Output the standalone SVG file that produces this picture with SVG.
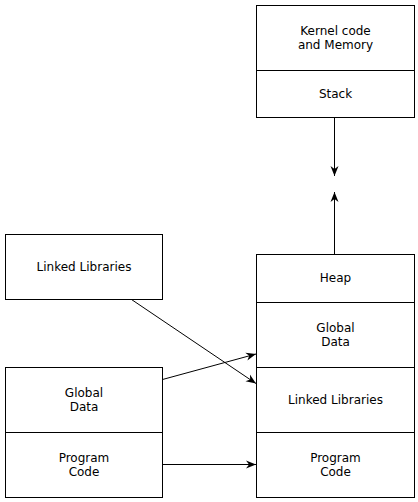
<svg xmlns="http://www.w3.org/2000/svg" width="418" height="502" viewBox="0 0 418 502">
<style>
.box{fill:#fff;stroke:#000;stroke-width:1}
.t{font-family:"DejaVu Sans",sans-serif;font-size:12px;fill:#000;text-anchor:middle}
.c{fill:none;stroke:#000;stroke-width:1}
</style>
<defs>
<marker id="ah" markerWidth="12" markerHeight="10" refX="10" refY="5" orient="auto" markerUnits="userSpaceOnUse">
<path d="M0,1 L10,5 L0,9 L3,5 Z" fill="#000"/>
</marker>
</defs>
<rect width="418" height="502" fill="#fff"/>
<g id="kernel">
<rect class="box" x="256.5" y="5.5" width="158" height="65"/>
<text class="t" x="335.5" y="35">Kernel code</text>
<text class="t" x="335.5" y="49">and Memory</text>
</g>
<g id="stack">
<rect class="box" x="256.5" y="70.5" width="158" height="47"/>
<text class="t" x="335.5" y="98">Stack</text>
</g>
<g id="heap">
<rect class="box" x="256.5" y="254.5" width="158" height="48"/>
<text class="t" x="335.5" y="282">Heap</text>
</g>
<g id="r-global">
<rect class="box" x="256.5" y="302.5" width="158" height="65"/>
<text class="t" x="335.5" y="332">Global</text>
<text class="t" x="335.5" y="345.5">Data</text>
</g>
<g id="r-linked">
<rect class="box" x="256.5" y="367.5" width="158" height="65"/>
<text class="t" x="335.5" y="404">Linked Libraries</text>
</g>
<g id="r-program">
<rect class="box" x="256.5" y="432.5" width="158" height="65"/>
<text class="t" x="335.5" y="462">Program</text>
<text class="t" x="335.5" y="476">Code</text>
</g>
<g id="l-linked">
<rect class="box" x="5.5" y="234.5" width="157" height="65"/>
<text class="t" x="84" y="270.5">Linked Libraries</text>
</g>
<g id="l-global">
<rect class="box" x="5.5" y="367.5" width="157" height="65"/>
<text class="t" x="84" y="397">Global</text>
<text class="t" x="84" y="411">Data</text>
</g>
<g id="l-program">
<rect class="box" x="5.5" y="432.5" width="157" height="65"/>
<text class="t" x="84" y="462">Program</text>
<text class="t" x="84" y="476">Code</text>
</g>
<g id="connectors">
<line class="c" x1="334.5" y1="118" x2="334.5" y2="176" marker-end="url(#ah)"/>
<line class="c" x1="334.5" y1="254" x2="334.5" y2="192" marker-end="url(#ah)"/>
<line class="c" x1="131.5" y1="299.5" x2="256" y2="383.5" marker-end="url(#ah)"/>
<line class="c" x1="162.5" y1="379.5" x2="256" y2="354" marker-end="url(#ah)"/>
<line class="c" x1="162.5" y1="464.5" x2="256" y2="464.5" marker-end="url(#ah)"/>
</g>
</svg>
